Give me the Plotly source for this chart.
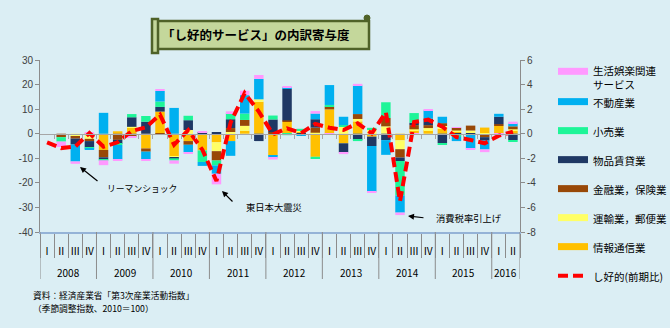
import plotly.graph_objects as go

# ---------------- data ----------------
years = ['2008'] * 4 + ['2009'] * 4 + ['2010'] * 4 + ['2011'] * 4 + ['2012'] * 4 + \
        ['2013'] * 4 + ['2014'] * 4 + ['2015'] * 4 + ['2016'] * 2
quarters = ['Ⅰ', 'Ⅱ', 'Ⅲ', 'Ⅳ'] * 8 + ['Ⅰ', 'Ⅱ']

# contributions (left axis)
info_comm = [0, 0, 0, -0.3, -6.6, 1.0, 2.5, -6.0, 9.0, -9.3, -3.0, -6.8, -3.5, -3.0, 1.2, 13.0,
             -9.0, 4.9, 1.0, -9.4, 9.9, -3.9, 5.0, -1.2, 0, -2.7, 1.5, 1.5, 2.0, 0.8, 0, 2.5, 3.2, 1.2]
transport = [0, 0, -1.2, -1.8, 0, 0, 0.3, 0, 0, -0.4, 1.5, 0, -3.6, 0.7, 2.0, 1.0,
             0, 0, 0.3, 0.4, 0, 2.8, 1.0, 1.5, 3.0, -3.6, 0.3, 0.8, 1.5, 0.5, 1.3, -0.4, 0, 0.6]
finance = [0, -1.4, -0.8, -0.9, -3.0, -2.5, -1.2, -1.3, -0.5, 0, -1.5, 0, -3.8, 1.6, 2.4, 0,
           0.6, 0.5, 0, 2.1, 1.1, 0, 2.0, 0, 3.4, -3.4, 1.7, 1.2, 0.8, 1.1, 2.0, -1.0, 0.7, 1.2]
rental = [0, 0, -2.4, -2.6, -0.9, -1.6, 3.9, 4.9, 1.9, -0.3, 4.0, 0.5, 0.3, 3.6, 0, -3.0,
          5.2, 12.9, -0.3, 3.4, 0, -3.7, -2.5, -3.8, -2.6, -1.4, 1.0, 2.6, -3.8, -0.6, -0.4, -1.4, 3.0, -2.6]
retail = [0, -1.8, 0, -0.3, -0.3, -0.5, 1.3, 2.3, 2.2, -0.9, 1.8, -4.7, -2.0, 2.4, 2.6, 0,
          1.6, -0.6, 0.7, -0.9, 0.7, 0.7, -0.5, 0.9, 6.4, -14.0, 3.9, 0, -0.7, -0.6, 0, 0, 0, -0.5]
realestate = [0, 0, -6.9, -0.5, 8.5, -5.8, 0, -3.0, 4.3, 10.5, -3.0, -1.6, -3.4, -6.0, 7.5, 8.3,
              -0.7, 0.4, -0.4, 2.3, 8.1, 3.4, 11.6, -18.6, -6.0, -7.0, 0, 3.4, 2.6, -1.8, -5.6, -3.6, 1.2, 1.3]
leisure = [0, -2.2, -0.95, 0.5, -2.0, -0.3, -0.4, -0.4, 0.8, -1.3, -0.7, 0.3, -4.3, 0.8, 1.8, 1.6,
           -0.8, 0.5, 0, 1.0, -0.3, -0.7, 0.7, -0.4, 0, -1.0, -0.4, 0.4, 0, 0.3, -0.4, -1.1, -0.8, 0.6]

# し好的 前期比 (right axis)
shikou = [-0.70, -1.17, -1.05, 0.05, -1.06, -0.70, 0.22, 0.52,
          1.55, -0.90, 0.30, -1.30, -3.85, 0.90, 3.30, 1.80,
          -0.05, 0.44, 0.05, 0.80, 0.49, 0.30, 0.85, 0.03,
          1.75, -5.50, 0.95, 1.15, 0.57, -0.27, -0.51, -0.78, -0.16, 0.16]

left_ticks = [30, 20, 10, 0, -10, -20, -30, -40]
left_ticktext = ['30', '20', '10', '0', '-10', '-20', '-30', '-40']
right_ticks = [6, 4, 2, 0, -2, -4, -6, -8]
right_ticktext = ['6', '4', '2', '0', '-2', '-4', '-6', '-8']

series_names = ['情報通信業', '運輸業，郵便業', '金融業，保険業', '物品賃貸業', '小売業', '不動産業', '生活娯楽関連サービス']
series_vals = [info_comm, transport, finance, rental, retail, realestate, leisure]
series_colors = ['#FFC000', '#FFFF66', '#984807', '#1F3864', '#1EF598', '#00B0F0', '#FF99FF']

legend_labels = ['生活娯楽関連<br>サービス', '不動産業', '小売業', '物品賃貸業', '金融業，保険業', '運輸業，郵便業', '情報通信業']
legend_colors = ['#FF99FF', '#00B0F0', '#1EF598', '#1F3864', '#984807', '#FFFF66', '#FFC000']
legend_groups = ['a', 'a', 'b', 'c', 'd', 'e', 'f']
line_name = 'し好的(前期比)'

# ---------------- layout helpers ----------------
W, H = 670, 328
L, R, T, B = 40, 150, 60, 96
PW, PH = W - L - R, H - T - B


def px(x):
    return (x - L) / PW


def py(y):
    return (H - B - y) / PH


BG = '#DBEEF4'
FONT = 'Noto Sans CJK JP'
GRAY = '#8C8C8C'

n = len(quarters)
xpos = list(range(n))

fig = go.Figure()

for name, vals, col in zip(series_names, series_vals, series_colors):
    fig.add_trace(go.Bar(x=xpos, y=vals, name=name, marker=dict(color=col, line=dict(width=0)),
                         showlegend=False, xaxis='x', yaxis='y'))

# legend-only entries
for lab, col, grp in zip(legend_labels, legend_colors, legend_groups):
    fig.add_trace(go.Scatter(x=[None], y=[None], mode='lines', name=lab, legendgroup=grp,
                             line=dict(color=col, width=7), xaxis='x2', yaxis='y', showlegend=True))

fig.add_trace(go.Scatter(x=xpos, y=shikou, mode='lines', name=line_name, legendgroup='g',
                         line=dict(color='#FF0000', width=4, dash='10px,5px'),
                         xaxis='x', yaxis='y2'))

boundaries = [i - 0.5 for i in range(n + 1)]

fig.update_layout(
    width=W, height=H,
    margin=dict(l=L, r=R, t=T, b=B, autoexpand=False),
    paper_bgcolor=BG, plot_bgcolor=BG,
    barmode='relative', bargap=0.33,
    font=dict(family=FONT, size=10, color='#000000'),
    xaxis=dict(range=[-0.5, n - 0.5], showline=True, linecolor='#95B3D7', linewidth=1.5,
               tickmode='array', tickvals=xpos, ticktext=quarters,
               ticks='outside', ticklen=9, tickcolor='rgba(0,0,0,0)', tickangle=0,
               minor=dict(tickmode='array', tickvals=boundaries, ticks='outside', ticklen=24,
                          tickcolor=GRAY, tickwidth=1, showgrid=False),
               tickfont=dict(family=FONT, size=10, color='#000000'), showgrid=False, zeroline=False),
    xaxis2=dict(overlaying='x', anchor='free', position=40 / 70, range=[-0.5, n - 0.5],
                showline=True, linecolor='#A6A6A6', linewidth=1, ticks='outside', ticklen=4,
                tickcolor='#A6A6A6', tickmode='array', tickvals=boundaries[1:-1], showticklabels=False,
                showgrid=False, zeroline=False, side='bottom'),
    yaxis=dict(range=[-40, 30], tickvals=left_ticks, ticktext=left_ticktext, showline=True,
               linecolor=GRAY, ticks='outside', ticklen=4, tickcolor=GRAY,
               tickfont=dict(family='Liberation Sans', size=10, color='#404040'),
               showgrid=False, zeroline=False),
    yaxis2=dict(range=[-8, 6], tickvals=right_ticks, ticktext=right_ticktext, overlaying='y', side='right',
                showline=True, linecolor=GRAY, ticks='outside', ticklen=4, tickcolor=GRAY,
                tickfont=dict(family='Liberation Sans', size=10, color='#404040'),
                showgrid=False, zeroline=False),
    legend=dict(x=px(553), y=py(58), xanchor='left', yanchor='top',
                bgcolor='rgba(0,0,0,0)', maxheight=290,
                font=dict(family=FONT, size=10.5, color='#000000'), tracegroupgap=10,
                traceorder='grouped', valign='top', itemwidth=30),
)

# title scroll box + year dividers
shapes = [
    dict(type='rect', xref='paper', yref='paper', x0=px(156), x1=px(369), y0=py(49), y1=py(21),
         fillcolor='#C4D79B', line=dict(color='#4F6228', width=2.5)),
    dict(type='rect', xref='paper', yref='paper', x0=px(152), x1=px(158), y0=py(53), y1=py(19),
         fillcolor='#C4D79B', line=dict(color='#4F6228', width=2.5)),
    dict(type='circle', xref='paper', yref='paper', x0=px(364), x1=px(370), y0=py(21), y1=py(15),
         fillcolor='#4F6228', line=dict(color='#4F6228', width=1)),
]

# year groups
year_list = []
for yv in years:
    if yv not in year_list:
        year_list.append(yv)
year_start = {yv: years.index(yv) for yv in year_list}
year_count = {yv: years.count(yv) for yv in year_list}
for yv in year_list:
    shapes.append(dict(type='line', xref='x', yref='paper', x0=year_start[yv] - 0.5, x1=year_start[yv] - 0.5,
                       y0=0, y1=py(279), line=dict(color=GRAY, width=1)))
shapes.append(dict(type='line', xref='x', yref='paper', x0=n - 0.5, x1=n - 0.5,
                   y0=0, y1=py(279), line=dict(color=GRAY, width=1)))
fig.update_layout(shapes=shapes)

annotations = [
    dict(text='<b>「し好的サービス」の内訳寄与度</b>', xref='paper', yref='paper', x=px(256), y=py(35),
         showarrow=False, font=dict(family=FONT, size=12.5, color='#000000'), xanchor='center', yanchor='middle'),
    dict(text='リーマンショック', xref='paper', yref='paper', x=px(105), y=py(188), showarrow=False,
         xanchor='left', yanchor='middle', font=dict(family=FONT, size=8.8)),
    dict(text=' ', xref='paper', yref='paper', x=px(80), y=py(167), ax=20, ay=16, showarrow=True,
         arrowhead=2, arrowsize=1, arrowwidth=1.2, arrowcolor='#000000'),
    dict(text='東日本大震災', xref='paper', yref='paper', x=px(244), y=py(207), showarrow=False,
         xanchor='left', yanchor='middle', font=dict(family=FONT, size=9.3)),
    dict(text=' ', xref='paper', yref='paper', x=px(222), y=py(191), ax=13, ay=13, showarrow=True,
         arrowhead=2, arrowsize=1, arrowwidth=1.2, arrowcolor='#000000'),
    dict(text='消費税率引上げ', xref='paper', yref='paper', x=px(434), y=py(218), showarrow=False,
         xanchor='left', yanchor='middle', font=dict(family=FONT, size=9.3)),
    dict(text=' ', xref='paper', yref='paper', x=px(408), y=py(216), ax=18, ay=2, showarrow=True,
         arrowhead=2, arrowsize=1, arrowwidth=1.2, arrowcolor='#000000'),
    dict(text='資料：経済産業省「第3次産業活動指数」', xref='paper', yref='paper', x=px(31), y=py(295),
         showarrow=False, xanchor='left', yanchor='middle', font=dict(family=FONT, size=8.7)),
    dict(text='（季節調整指数、2010＝100）', xref='paper', yref='paper', x=px(31), y=py(308),
         showarrow=False, xanchor='left', yanchor='middle', font=dict(family=FONT, size=8.7)),
]
for yv in year_list:
    annotations.append(dict(text=yv, xref='x', yref='paper', x=year_start[yv] + (year_count[yv] - 1) / 2,
                            y=py(272), showarrow=False, xanchor='center', yanchor='middle',
                            font=dict(family=FONT, size=10, color='#000000')))
fig.update_layout(annotations=annotations)

fig.write_html('out.html')
